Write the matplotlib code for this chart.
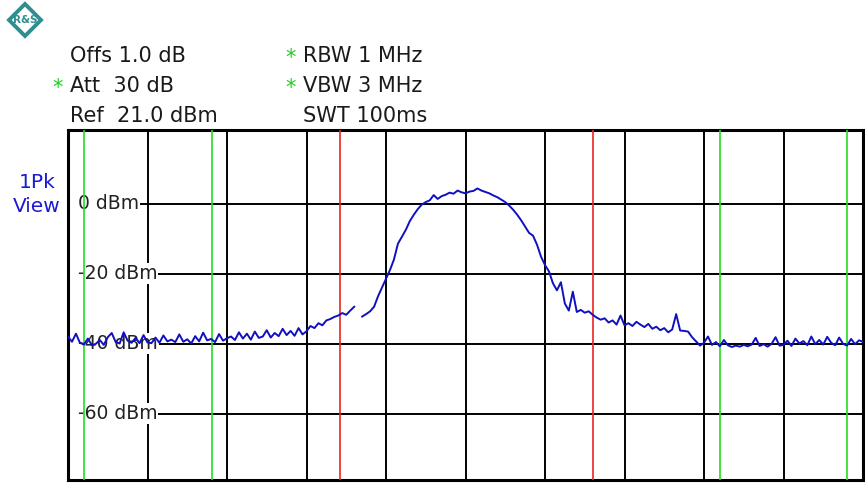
import numpy as np
import matplotlib
matplotlib.use('Agg')
import matplotlib.pyplot as plt
from matplotlib.patches import Polygon

trace_dbm = [
    -38.0, -39.5, -37.2, -39.8, -40.3, -38.6, -40.5, -40.1, -39.0, -40.4,
    -38.2, -37.0, -39.6, -40.0, -36.8, -39.2, -39.8, -38.4, -39.9, -37.6,
    -39.7, -39.9, -38.3, -39.8, -37.7, -39.4, -38.9, -39.6, -37.4, -39.5,
    -38.8, -40.0, -37.9, -39.4, -36.9, -39.1, -38.7, -39.6, -37.3, -39.2,
    -38.5, -38.0, -39.0, -36.8, -38.6, -37.2, -38.9, -36.6, -38.4, -38.0,
    -36.2, -38.3, -37.0, -37.9, -35.8, -37.6, -36.4, -37.8, -35.6, -37.4,
    -36.5, -35.0, -35.6, -34.2, -34.8, -33.4, -33.0, -32.4, -32.0, -31.3,
    -31.8, -30.6, -29.5, np.nan, -32.3, -31.6, -30.8, -29.5, -26.5, -24.0,
    -21.5, -19.0, -16.0, -11.5, -9.5, -7.5, -5.0, -3.2, -1.6, -0.3,
    0.4, 0.9, 2.4, 1.3, 2.1, 2.5, 3.1, 2.8, 3.7, 3.2,
    2.9, 3.4, 3.6, 4.3, 3.7, 3.3, 2.9, 2.3, 1.8, 1.1,
    0.4, -0.6, -1.8, -3.2, -4.8, -6.6, -8.4, -9.2, -11.8, -15.2,
    -17.6, -19.4, -22.8, -24.8, -22.5, -28.6, -30.6, -25.2, -31.0, -30.4,
    -31.2, -30.8, -31.8, -32.6, -33.2, -32.8, -34.0, -33.4, -34.6, -32.0,
    -34.8, -34.2, -35.0, -33.8, -34.6, -35.3, -34.4, -35.8, -35.2, -36.2,
    -35.6, -36.8, -36.0, -31.6, -36.3, -36.4, -36.6, -38.2, -39.4, -40.6,
    -39.8, -38.0, -40.4, -39.6, -40.8, -39.0, -40.5, -41.0, -40.6, -40.9,
    -40.4, -40.8, -40.3, -38.4, -40.7, -40.2, -40.9, -40.1, -38.2, -40.6,
    -40.4, -39.2, -40.7, -38.6, -40.0, -39.3, -40.5, -38.0, -40.2, -39.0,
    -40.3, -38.1, -39.8, -40.5, -38.3, -40.1, -40.6, -38.7, -40.2, -39.1,
    -39.5,
]
trace_x = np.arange(len(trace_dbm)) * 0.05

level_lines = [0, -20, -40, -60]
level_labels = ['0 dBm', '-20 dBm', '-40 dBm', '-60 dBm']
green_markers = [0.2, 1.81, 8.2, 9.8]
red_markers = [3.42, 6.6]

header_left = ['Offs 1.0 dB', 'Att  30 dB', 'Ref  21.0 dBm']
header_right = ['RBW 1 MHz', 'VBW 3 MHz', 'SWT 100ms']
star_left = [False, True, False]
star_right = [True, True, False]

W, H = 865, 483
fig = plt.figure(figsize=(W / 100, H / 100), dpi=100)

# main trace window
ax = fig.add_axes([68 / W, 1 - 480 / H, 795 / W, 350 / H])
ax.set_xlim(0, 10)
ax.set_ylim(-79, 21)
ax.set_xticks([])
ax.set_yticks([])
for s in ax.spines.values():
    s.set_linewidth(2.2)
    s.set_color('black')

lab_x = 0.12
for gx in range(1, 10):
    ax.axvline(gx, color='black', lw=1.4, zorder=1)
for gy in level_lines:
    ax.hlines(gy, lab_x, 10, color='black', lw=1.4, zorder=1)

for gy, lab in zip(level_lines, level_labels):
    ax.text(lab_x, gy, lab, fontsize=13.5, va='center', ha='left', zorder=2,
            color='#222222',
            bbox=dict(facecolor='white', edgecolor='none', pad=1.0))

for mx in green_markers:
    ax.axvline(mx, color='#22dd22', lw=1.2, zorder=3)
for mx in red_markers:
    ax.axvline(mx, color='#ee2222', lw=1.2, zorder=3)

ax.plot(trace_x, trace_dbm, color='#1010c0', lw=1.4, zorder=4)

# header overlay in pixel coordinates
ov = fig.add_axes([0, 0, 1, 1], zorder=-1)
ov.set_xlim(0, W)
ov.set_ylim(H, 0)
ov.axis('off')

baselines = [62, 92, 122]
for i, yb in enumerate(baselines):
    ov.text(70, yb, header_left[i], fontsize=15, va='baseline', ha='left',
            color='#1a1a1a')
    if star_left[i]:
        ov.text(52, yb + 2, '*', fontsize=15, color='#22cc22', va='baseline')
    ov.text(303, yb, header_right[i], fontsize=15, va='baseline', ha='left',
            color='#1a1a1a')
    if star_right[i]:
        ov.text(285, yb + 2, '*', fontsize=15, color='#22cc22', va='baseline')

ov.text(37, 182, '1Pk', fontsize=14.5, color='#1a1ad0', ha='center', va='center')
ov.text(37, 207, 'View', fontsize=14.5, color='#1a1ad0', ha='center', va='center')

# R&S logo
cx, cy, r = 25, 20, 16
ov.add_patch(Polygon([[cx, cy - r], [cx + r, cy], [cx, cy + r], [cx - r, cy]],
                     closed=True, fill=False, edgecolor='#2f8f8f', lw=2.8))
ov.text(cx, cy, 'R&S', fontsize=7.5, color='#2f8f8f', ha='center', va='center',
        fontweight='bold')

fig.savefig('out.png', dpi=100)
